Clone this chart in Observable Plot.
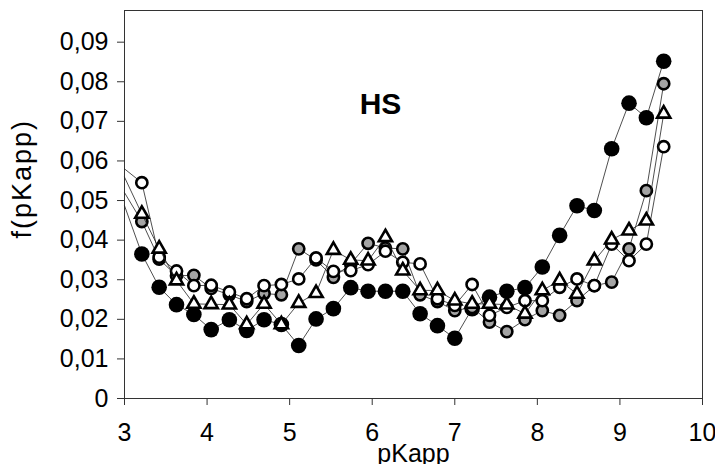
<!DOCTYPE html>
<html>
<head>
<meta charset="utf-8">
<script src="https://cdn.jsdelivr.net/npm/d3@7"></script>
<script src="https://cdn.jsdelivr.net/npm/@observablehq/plot@0.6"></script>
<style>
  html, body { margin: 0; padding: 0; background: #fff; }
</style>
</head>
<body>
<div id="chart"></div>
<script>
const xs = [3.00, 3.21, 3.42, 3.63, 3.84, 4.05, 4.27, 4.48, 4.69, 4.90, 5.11, 5.32, 5.53, 5.74, 5.95, 6.16, 6.37, 6.58, 6.79, 7.00, 7.21, 7.42, 7.63, 7.85, 8.06, 8.27, 8.48, 8.69, 8.90, 9.11, 9.32, 9.53];
const blackVals = [0.0487, 0.0365, 0.0281, 0.0237, 0.0212, 0.0174, 0.0199, 0.0172, 0.0199, 0.0187, 0.0134, 0.0201, 0.0227, 0.0280, 0.0271, 0.0271, 0.0271, 0.0214, 0.0184, 0.0152, 0.0227, 0.0256, 0.0271, 0.0280, 0.0332, 0.0412, 0.0487, 0.0475, 0.0631, 0.0746, 0.0709, 0.0852];
const grayVals = [0.0520, 0.0447, 0.0352, 0.0310, 0.0311, 0.0278, 0.0262, 0.0245, 0.0265, 0.0262, 0.0378, 0.0350, 0.0306, 0.0340, 0.0392, 0.0380, 0.0378, 0.0262, 0.0245, 0.0222, 0.0230, 0.0193, 0.0169, 0.0199, 0.0222, 0.0210, 0.0247, 0.0285, 0.0294, 0.0378, 0.0525, 0.0795];
const openVals = [0.0580, 0.0545, 0.0357, 0.0322, 0.0285, 0.0286, 0.0269, 0.0252, 0.0285, 0.0288, 0.0302, 0.0355, 0.0321, 0.0323, 0.0338, 0.0372, 0.0344, 0.0340, 0.0252, 0.0235, 0.0288, 0.0210, 0.0230, 0.0247, 0.0247, 0.0281, 0.0302, 0.0285, 0.0390, 0.0348, 0.0390, 0.0636];
const triVals = [0.0559, 0.0466, 0.0378, 0.0298, 0.0239, 0.0238, 0.0237, 0.0187, 0.0239, 0.0187, 0.0241, 0.0266, 0.0375, 0.0350, 0.0348, 0.0407, 0.0323, 0.0273, 0.0273, 0.0247, 0.0239, 0.0239, 0.0237, 0.0214, 0.0273, 0.0298, 0.0264, 0.0348, 0.0401, 0.0424, 0.0449, 0.0719];

const xTicks = [3, 4, 5, 6, 7, 8, 9, 10];
const yTicks = [0, 0.01, 0.02, 0.03, 0.04, 0.05, 0.06, 0.07, 0.08, 0.09];
const yTickLabels = ["0", "0,01", "0,02", "0,03", "0,04", "0,05", "0,06", "0,07", "0,08", "0,09"];

const toRows = vals => xs.map((x, i) => ({x, y: vals[i]}));
const black = toRows(blackVals);
const gray = toRows(grayVals);
const open = toRows(openVals);
const tri = toRows(triVals);
const vis = d => d.x > 3.05;

const lineOpts = {x: "x", y: "y", stroke: "#222", strokeWidth: 0.8};

const chart = Plot.plot({
  width: 715,
  height: 464,
  marginLeft: 124,
  marginRight: 13,
  marginTop: 10,
  marginBottom: 66,
  style: {fontFamily: "'Liberation Sans', Arial, sans-serif", fontSize: "25px", background: "#fff", color: "#000"},
  x: {domain: [3, 10]},
  y: {domain: [0, 0.098]},
  marks: [
    Plot.axisX({ticks: xTicks, tickSize: 7, tickPadding: 18, tickFormat: d => String(d), label: null, fontSize: 25, stroke: "#333"}),
    Plot.axisY({ticks: yTicks, tickSize: 7, tickPadding: 9, tickFormat: (d, i) => yTickLabels[i], label: null, fontSize: 25, stroke: "#333"}),
    Plot.frame({stroke: "#333", strokeWidth: 1}),
    Plot.line(black, lineOpts),
    Plot.dot(black.filter(vis), {x: "x", y: "y", r: 7.8, fill: "#000", stroke: "none"}),
    Plot.line(gray, lineOpts),
    Plot.dot(gray.filter(vis), {x: "x", y: "y", r: 5.6, fill: "#a4a4a4", stroke: "#000", strokeWidth: 2.6}),
    Plot.line(open, lineOpts),
    Plot.dot(open.filter(vis), {x: "x", y: "y", r: 5.6, fill: "#fff", stroke: "#000", strokeWidth: 2.6}),
    Plot.line(tri, lineOpts),
    Plot.dot(tri.filter(vis), {x: "x", y: "y", r: 4.9, symbol: "triangle", fill: "#fff", stroke: "#000", strokeWidth: 2.6}),
    Plot.text(["HS"], {x: 6.1, y: 0.0743, text: d => d, fontSize: 30, fontWeight: "bold", fill: "#000"}),
    Plot.text(["f(pKapp)"], {x: 1.765, y: 0.0555, text: d => d, rotate: -90, fontSize: 27, fill: "#000", style: "letter-spacing: 2px"}),
    Plot.text(["pKapp"], {frameAnchor: "bottom", text: d => d, dy: 63, fontSize: 25, fill: "#000"})
  ]
});
chart.querySelectorAll("text").forEach(t => { if (t.textContent === "f(pKapp)") t.style.letterSpacing = "2px"; });
document.getElementById("chart").appendChild(chart);
</script>
</body>
</html>
